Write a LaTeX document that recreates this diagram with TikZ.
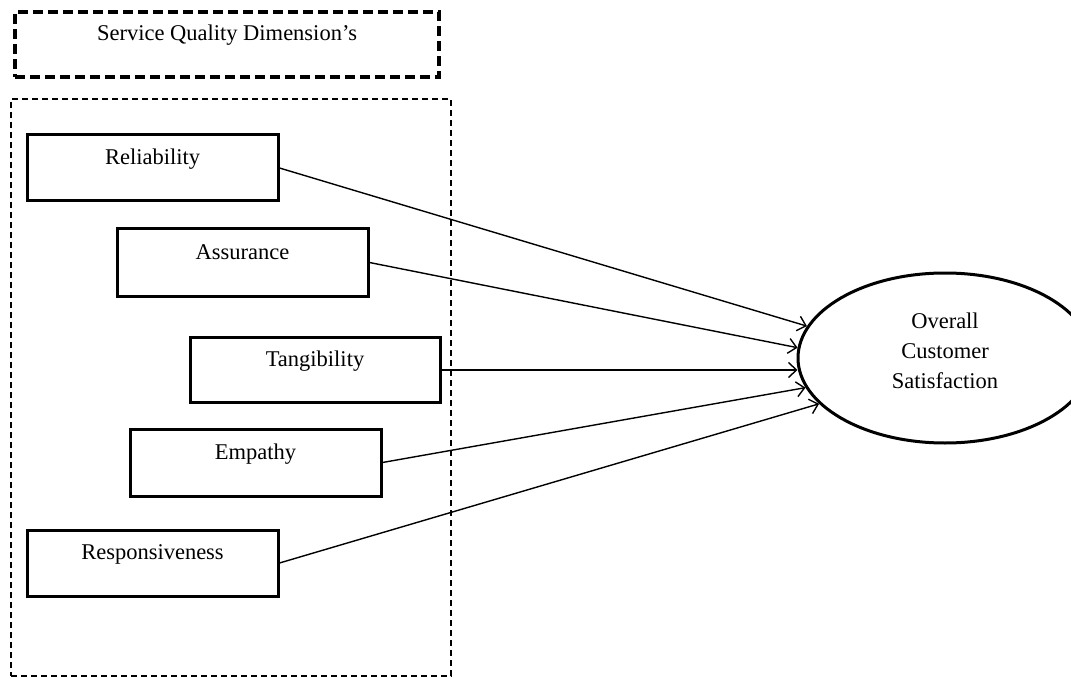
\documentclass[tikz,border=0pt]{standalone}
\usepackage{fontspec}
\setmainfont{Liberation Serif}
\usetikzlibrary{shapes.geometric,arrows.meta}
\begin{document}
\begin{tikzpicture}[x=1pt,y=-1pt,
  dimbox/.style={draw, line width=3pt, minimum width=251pt, minimum height=66pt,
    inner sep=0pt, text height=15pt, text depth=22pt, font=\fontsize{22.5}{27}\selectfont},
  titlebox/.style={draw, line width=3.2pt, dash pattern=on 10pt off 5pt,
    minimum width=424pt, minimum height=65pt, inner sep=0pt,
    text height=15pt, text depth=22pt, font=\fontsize{22.5}{27}\selectfont},
  framebox/.style={draw, line width=1.5pt, dash pattern=on 6pt off 4pt,
    minimum width=440pt, minimum height=577pt, inner sep=0pt},
  outcome/.style={draw, ellipse, line width=3pt, minimum width=294pt, minimum height=170pt,
    inner sep=0pt, align=center, text depth=15pt, font=\fontsize{22.5}{30}\selectfont},
  link/.style={line width=1.4pt, -{Straight Barb[length=8pt,width=15pt,line width=1.4pt]}}]
\useasboundingbox (0,0) rectangle (1071,679);
\node[titlebox] (title) at (227,44.5) {Service Quality Dimension's};
\node[framebox] (frame) at (231,387.5) {};
\node[dimbox] (rel) at (152.5,168) {Reliability};
\node[dimbox, minimum height=67pt] (ass) at (242.5,262.5) {Assurance};
\node[dimbox, minimum width=250pt, minimum height=65pt] (tan) at (315,370) {Tangibility};
\node[dimbox, minimum height=67pt] (emp) at (255.5,462.5) {Empathy};
\node[dimbox] (res) at (152.5,563) {Responsiveness};
\node[outcome] (oc) at (945,358) {Overall\\Customer\\Satisfaction};
\draw[link] (rel.east) -- (oc.167.8);
\draw[link] (ass.east) -- (oc.176.5);
\draw[link] (tan.east) -- ([xshift=1pt]tan.east -| oc.west);
\draw[link] (emp.east) -- (oc.192.7);
\draw[link] (res.east) -- (oc.200.7);
\end{tikzpicture}
\end{document}
